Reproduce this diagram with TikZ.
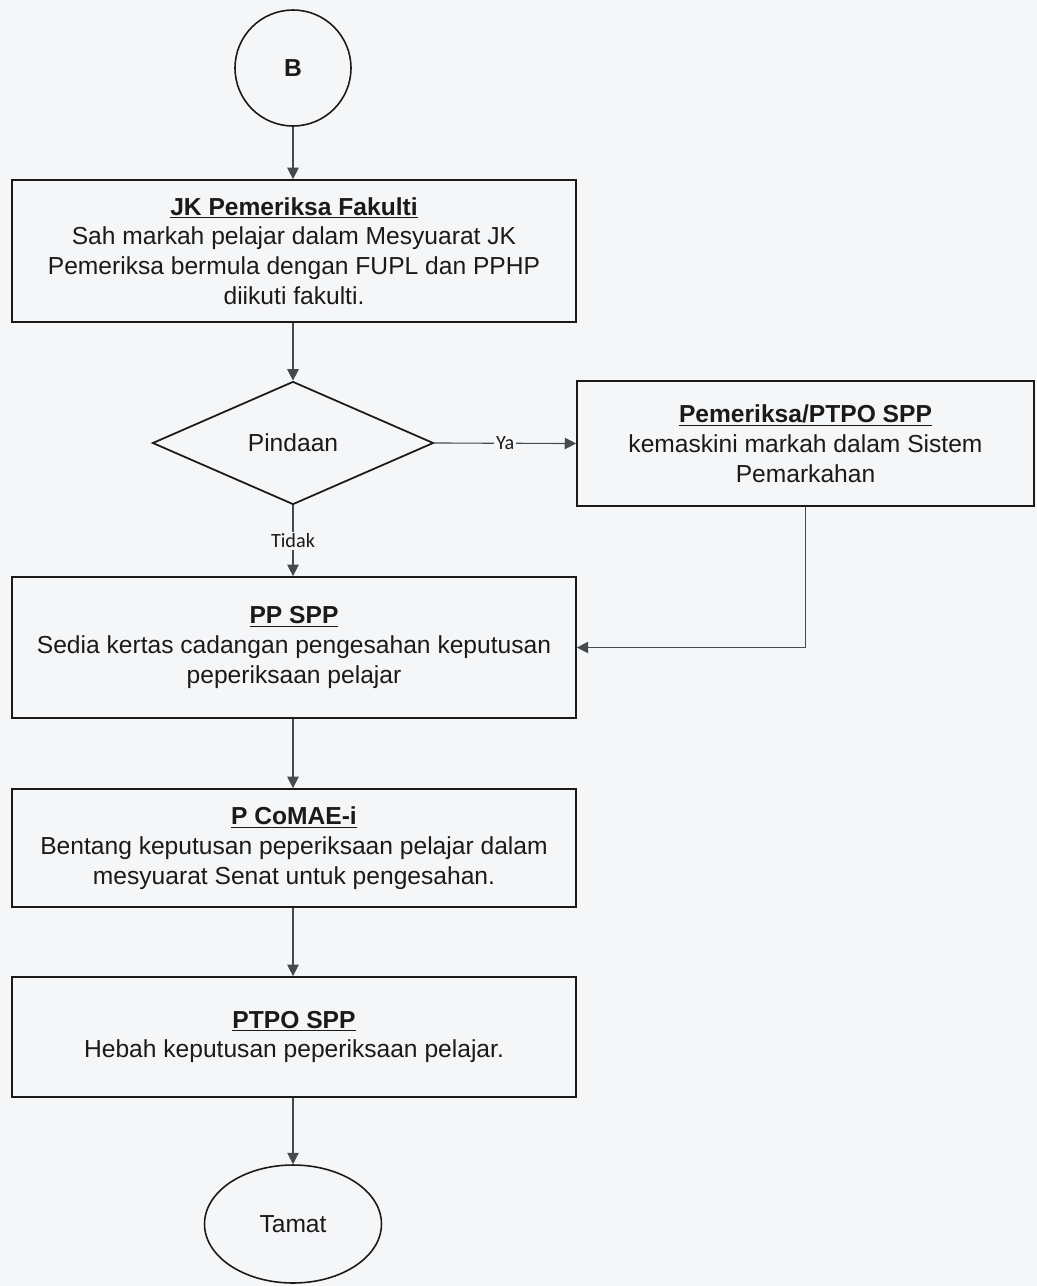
\documentclass[tikz,border=0pt]{standalone}
\usepackage{fontspec}
\setmainfont{Liberation Sans}
\newfontfamily\labelfont{Carlito}
\usetikzlibrary{positioning, arrows.meta, shapes.geometric}
\definecolor{scanbg}{HTML}{F5F6F8}
\definecolor{inkgray}{HTML}{1A1A1A}
\definecolor{linegray}{HTML}{434B4F}

\begin{document}
\begin{tikzpicture}[
      x=0.02cm, y=-0.02cm,
      every node/.style={font=\fontsize{14}{17}\selectfont, text=inkgray},
      process/.style={draw=inkgray, line width=1pt, minimum width=#1, align=center, inner sep=0pt},
      decision/.style={draw=inkgray, line width=1pt, diamond, inner sep=0pt,
                       minimum width=5.62cm, minimum height=2.46cm},
      terminal/.style={draw=inkgray, line width=0.9pt, ellipse, inner sep=0pt},
      flow/.style={draw=linegray, line width=0.65pt, -{Triangle[length=6.5pt, width=6.5pt]}},
      branch/.style={font=\labelfont\fontsize{11.5}{13}\selectfont, fill=scanbg, inner sep=1pt},
    ]
    \fill[scanbg] (0,0) rectangle (1037,1286);
    \useasboundingbox (0,0) rectangle (1037,1286);

    \node[terminal, circle, minimum size=2.32cm, font=\bfseries\fontsize{14}{17}\selectfont]
      (start) at (293,68) {B};

    \node[process=11.28cm, minimum height=2.84cm] (jk) at (294,251)
      {\underline{\textbf{JK Pemeriksa Fakulti}}\\
       Sah markah pelajar dalam Mesyuarat JK\\
       Pemeriksa bermula dengan FUPL dan PPHP\\
       diikuti fakulti.};

    \node[decision] (pindaan) at (293,443) {Pindaan};

    \node[process=9.14cm, minimum height=2.5cm] (kemaskini) at (805.5,443.5)
      {\underline{\textbf{Pemeriksa/PTPO SPP}}\\
       kemaskini markah dalam Sistem\\
       Pemarkahan};

    \node[process=11.28cm, minimum height=2.82cm] (ppspp) at (294,647.5)
      {\underline{\textbf{PP SPP}}\\
       Sedia kertas cadangan pengesahan keputusan\\
       peperiksaan pelajar};

    \node[process=11.28cm, minimum height=2.36cm] (comae) at (294,848)
      {\underline{\textbf{P CoMAE-i}}\\
       Bentang keputusan peperiksaan pelajar dalam\\
       mesyuarat Senat untuk pengesahan.};

    \node[process=11.28cm, minimum height=2.4cm] (hebah) at (294,1037)
      {\underline{\textbf{PTPO SPP}}\\
       Hebah keputusan peperiksaan pelajar.};

    \node[terminal, minimum width=3.54cm, minimum height=2.36cm] (tamat) at (293,1224) {Tamat};

    % connectors
    \draw[flow] (start) -- (start |- jk.north);
    \draw[flow] (jk.south -| pindaan) -- (pindaan.north);
    \draw[flow] (pindaan.east) -- node[branch] {Ya} (kemaskini.west);
    \draw[flow] (pindaan.south) -- node[branch] {Tidak} (pindaan |- ppspp.north);
    \draw[flow] (kemaskini.south) |- (ppspp.east);
    \draw[flow] (ppspp.south -| pindaan) -- (pindaan |- comae.north);
    \draw[flow] (comae.south -| pindaan) -- (pindaan |- hebah.north);
    \draw[flow] (hebah.south -| tamat) -- (tamat.north);
  \end{tikzpicture}
\end{document}
